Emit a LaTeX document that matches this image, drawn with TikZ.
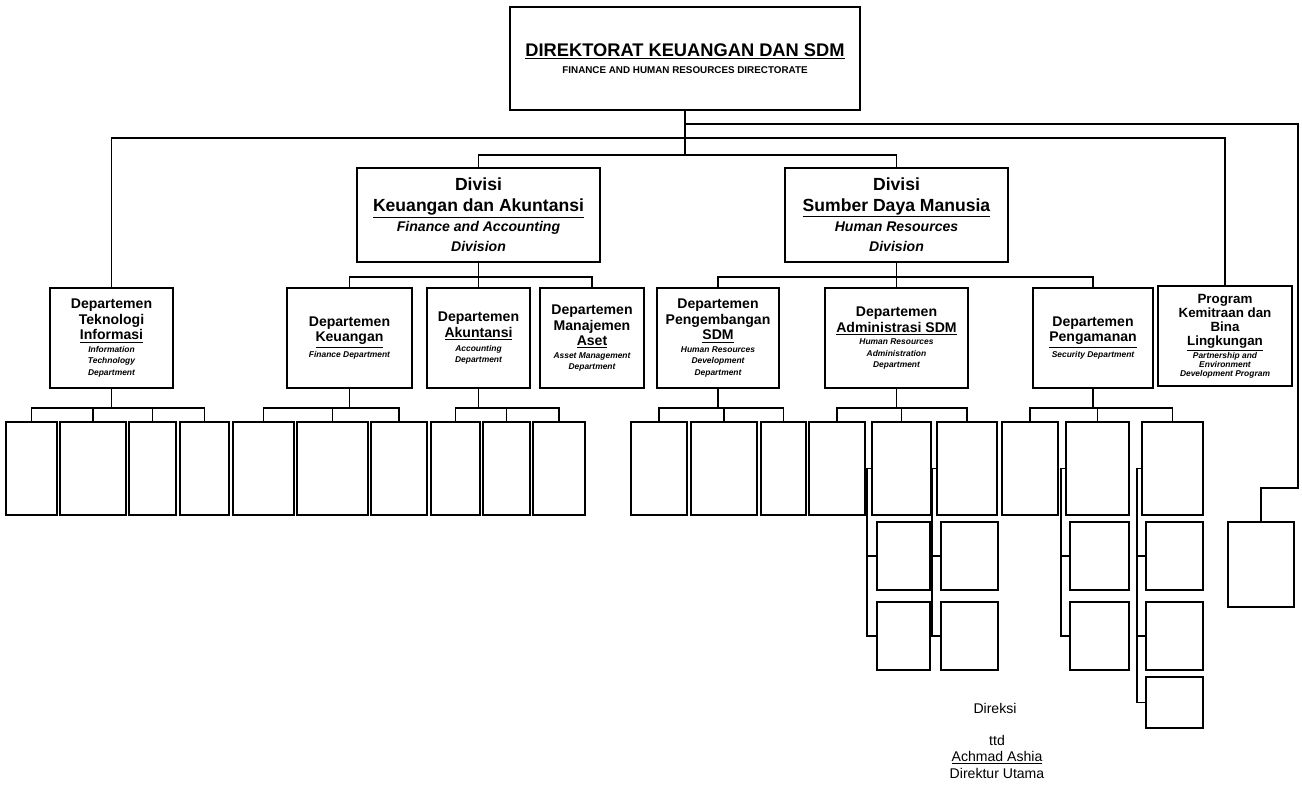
\documentclass[tikz,border=0pt]{standalone}
\usepackage{fontspec}
\setmainfont{Liberation Sans}
\usetikzlibrary{positioning,calc}

\tikzset{
  unit/.style={draw, line width=1.4pt, align=center, inner sep=1pt,
    font=\bfseries\fontsize{10}{11}\selectfont},
  divbox/.style={unit, font=\bfseries\fontsize{12.5}{14.5}\selectfont},
  subunit/.style={draw, line width=1.4pt},
  conn/.style={line width=1.3pt},
  boxsize/.style 2 args={minimum width=#1*0.025cm, minimum height=#2*0.025cm},
}
\newcommand{\engl}[1]{{\itshape\fontsize{6}{6.5}\selectfont #1}}

\begin{document}
\begin{tikzpicture}[x=0.025cm, y=-0.025cm]
\useasboundingbox (0,0) rectangle (1302,784);

% direktorat
\node[unit, boxsize={350}{103}] (dir) at (685,58.5)
  {{\fontsize{13}{15}\selectfont\underline{DIREKTORAT KEUANGAN DAN SDM}}\\[1pt]
   {\fontsize{7}{8}\selectfont FINANCE AND HUMAN RESOURCES DIRECTORATE}};

% divisi
\node[divbox, boxsize={243}{94}] (divk) at (478.5,215)
  {Divisi\\\underline{Keuangan dan Akuntansi}\\{\itshape\fontsize{10}{14}\selectfont Finance and Accounting}\\{\itshape\fontsize{10}{14}\selectfont Division}};
\node[divbox, boxsize={223}{94}] (divs) at (896.5,215)
  {Divisi\\\underline{Sumber Daya Manusia}\\{\itshape\fontsize{10}{14}\selectfont Human Resources}\\{\itshape\fontsize{10}{14}\selectfont Division}};

% departemen
\node[unit, boxsize={123}{100}] (dti) at (111.5,338)
  {Departemen\\Teknologi\\\underline{Informasi}\\[-2pt]\engl{Information}\\[-3pt]\engl{Technology}\\[-3pt]\engl{Department}};
\node[unit, boxsize={125}{100}] (dkeu) at (349.5,338)
  {Departemen\\\underline{Keuangan}\\[0pt]\engl{Finance Department}};
\node[unit, boxsize={103}{100}] (dakt) at (478.5,338)
  {Departemen\\\underline{Akuntansi}\\[-1pt]\engl{Accounting}\\[-3pt]\engl{Department}};
\node[unit, boxsize={104}{100}] (dman) at (592,338)
  {Departemen\\Manajemen\\\underline{Aset}\\[-2pt]\engl{Asset Management}\\[-3pt]\engl{Department}};
\node[unit, boxsize={122}{100}] (dpsdm) at (718,338)
  {Departemen\\Pengembangan\\\underline{SDM}\\[-2pt]\engl{Human Resources}\\[-3pt]\engl{Development}\\[-3pt]\engl{Department}};
\node[unit, boxsize={143}{100}] (dadm) at (896.5,338)
  {Departemen\\\underline{Administrasi SDM}\\[-2pt]\engl{Human Resources}\\[-3pt]\engl{Administration}\\[-3pt]\engl{Department}};
\node[unit, boxsize={120}{100}] (dpam) at (1093,338)
  {Departemen\\\underline{Pengamanan}\\[0pt]\engl{Security Department}};
\node[unit, boxsize={134}{100}, font=\bfseries\fontsize{9.5}{10}\selectfont] (prog) at (1225,336)
  {Program\\Kemitraan dan\\Bina\\\underline{Lingkungan}\\[-1pt]\engl{Partnership and}\\[-3.5pt]\engl{Environment}\\[-3.5pt]\engl{Development Program}};

% unit di bawah departemen
\node[subunit, boxsize={51}{93}] (t1) at (31.5,468.5) {};
\node[subunit, boxsize={66}{93}] (t2) at (93,468.5) {};
\node[subunit, boxsize={47}{93}] (t3) at (152.5,468.5) {};
\node[subunit, boxsize={49}{93}] (t4) at (204.5,468.5) {};
\node[subunit, boxsize={61}{93}] (k1) at (263.5,468.5) {};
\node[subunit, boxsize={71}{93}] (k2) at (332.5,468.5) {};
\node[subunit, boxsize={56}{93}] (k3) at (399,468.5) {};
\node[subunit, boxsize={49}{93}] (a1) at (455.5,468.5) {};
\node[subunit, boxsize={47}{93}] (a2) at (506.5,468.5) {};
\node[subunit, boxsize={52}{93}] (a3) at (559,468.5) {};
\node[subunit, boxsize={56}{93}] (p1) at (659,468.5) {};
\node[subunit, boxsize={66}{93}] (p2) at (724,468.5) {};
\node[subunit, boxsize={45}{93}] (p3) at (783.5,468.5) {};
\node[subunit, boxsize={56}{93}] (m1) at (837,468.5) {};
\node[subunit, boxsize={59}{93}] (m2) at (901.5,468.5) {};
\node[subunit, boxsize={60}{93}] (m3) at (967,468.5) {};
\node[subunit, boxsize={56}{93}] (s1) at (1030,468.5) {};
\node[subunit, boxsize={63}{93}] (s2) at (1097.5,468.5) {};
\node[subunit, boxsize={61}{93}] (s3) at (1172.5,468.5) {};

\node[subunit, boxsize={53}{68}] (m2a) at (903.5,556) {};
\node[subunit, boxsize={53}{68}] (m2b) at (903.5,636) {};
\node[subunit, boxsize={57}{68}] (m3a) at (969.5,556) {};
\node[subunit, boxsize={57}{68}] (m3b) at (969.5,636) {};
\node[subunit, boxsize={59}{68}] (s2a) at (1099.5,556) {};
\node[subunit, boxsize={59}{68}] (s2b) at (1099.5,636) {};
\node[subunit, boxsize={57}{68}] (s3a) at (1174.5,556) {};
\node[subunit, boxsize={57}{68}] (s3b) at (1174.5,636) {};
\node[subunit, boxsize={57}{51}] (s3c) at (1174.5,702.5) {};
\node[subunit, boxsize={66}{85}] (rbox) at (1261,564.5) {};

% garis
\draw[conn] (dir.south) -- (dir.south |- 0,155);
\draw[conn] (divk.north) |- (divs.north |- 0,155) -- (divs.north);
\draw[conn] (dti.north) |- (prog.north |- 0,138) -- (prog.north);
\coordinate (rturn) at (1298,124);
\coordinate (rjog) at (1298,488);
\draw[conn] (dir.south |- 0,124) -- (rturn) -- (rjog) -| (rbox.north);

\draw[conn] (divk.south) -- (dakt.north);
\draw[conn] (dkeu.north) |- (dman.north |- 0,277) -- (dman.north);
\draw[conn] (divs.south) -- (dadm.north);
\draw[conn] (dpsdm.north) |- (dpam.north |- 0,277) -- (dpam.north);

\draw[conn] (dti.south) -- (dti.south |- 0,408);
\draw[conn] (t1.north) |- (t4.north |- 0,408) -- (t4.north);
\draw[conn] (t2.north) -- (t2.north |- 0,408);
\draw[conn] (t3.north) -- (t3.north |- 0,408);

\draw[conn] (dkeu.south) -- (dkeu.south |- 0,408);
\draw[conn] (k1.north) |- (k3.north |- 0,408) -- (k3.north);
\draw[conn] (k2.north) -- (k2.north |- 0,408);

\draw[conn] (dakt.south) -- (dakt.south |- 0,408);
\draw[conn] (a1.north) |- (a3.north |- 0,408) -- (a3.north);
\draw[conn] (a2.north) -- (a2.north |- 0,408);

\draw[conn] (dpsdm.south) -- (dpsdm.south |- 0,408);
\draw[conn] (p1.north) |- (p3.north |- 0,408) -- (p3.north);
\draw[conn] (p2.north) -- (p2.north |- 0,408);

\draw[conn] (dadm.south) -- (dadm.south |- 0,408);
\draw[conn] (m1.north) |- (m3.north |- 0,408) -- (m3.north);
\draw[conn] (m2.north) -- (m2.north |- 0,408);

\draw[conn] (dpam.south) -- (dpam.south |- 0,408);
\draw[conn] (s1.north) |- (s3.north |- 0,408) -- (s3.north);
\draw[conn] (s2.north) -- (s2.north |- 0,408);

\draw[conn] (m2.west) -- ++(-4,0) |- (m2b.west);
\draw[conn] (m2.west) ++(-4,0) |- (m2a.west);
\draw[conn] (m3.west) -- ++(-4,0) |- (m3b.west);
\draw[conn] (m3.west) ++(-4,0) |- (m3a.west);
\draw[conn] (s2.west) -- ++(-4,0) |- (s2b.west);
\draw[conn] (s2.west) ++(-4,0) |- (s2a.west);
\draw[conn] (s3.west) -- ++(-4,0) |- (s3c.west);
\draw[conn] (s3.west) ++(-4,0) |- (s3a.west);
\draw[conn] (s3.west) ++(-4,0) |- (s3b.west);

% pengesahan
\node[font=\fontsize{10}{12}\selectfont] (sig1) at (995,708) {Direksi};
\node[font=\fontsize{10}{12}\selectfont] (sig2) at (997,740) {ttd};
\node[font=\fontsize{10}{12}\selectfont, below=-3pt of sig2] (sig3) {\underline{Achmad Ashia}};
\node[font=\fontsize{10}{12}\selectfont, below=-4pt of sig3] (sig4) {Direktur Utama};
\end{tikzpicture}
\end{document}
